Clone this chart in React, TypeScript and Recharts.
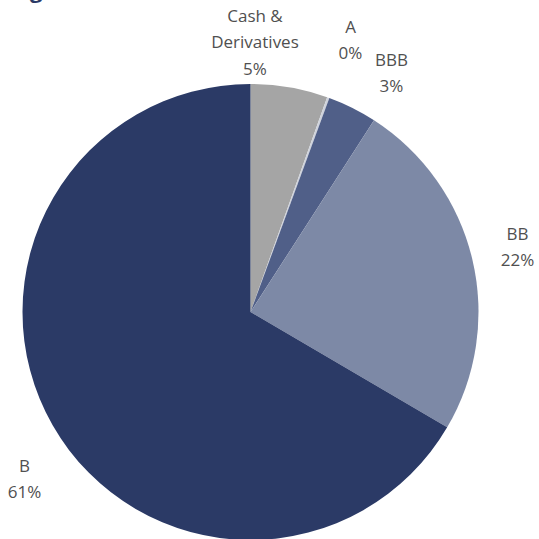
// Credit quality breakdown — pie chart with outside labels
import { PieChart, Pie, Cell } from 'recharts';

const ratings = ['Cash &\nDerivatives', 'A', 'BBB', 'BB', 'B'];
const weights = [5.0, 0.15, 3.2, 22.3, 61.0];
const colors = ['#a5a5a5', '#cfd3dc', '#505f88', '#7d89a6', '#2b3a66'];

// label block centres, relative to the pie centre
const labelOffsets = [
  { dx: 4.5, dy: -271 },
  { dx: 100, dy: -273 },
  { dx: 141, dy: -240 },
  { dx: 267, dy: -66 },
  { dx: -226, dy: 166 },
];

const data = ratings.map((name, i) => ({ name, value: weights[i] }));

const CX = 250.5;
const CY = 312;

// eslint-disable-next-line @typescript-eslint/no-explicit-any
const renderLabel = (props: any) => {
  const { index, cx, cy, value } = props;
  const off = labelOffsets[index];
  const lines = [...ratings[index].split('\n'), `${Math.round(value)}%`];
  const lh = 26.5;
  const x = cx + off.dx;
  const y0 = cy + off.dy - ((lines.length - 1) * lh) / 2;
  return (
    <text
      key={index}
      x={x}
      y={y0}
      textAnchor="middle"
      dominantBaseline="central"
      fill="#505050"
      fontSize={17}
      fontFamily="'Open Sans', sans-serif"
    >
      {lines.map((l, i) => (
        <tspan key={i} x={x} y={y0 + i * lh}>{l}</tspan>
      ))}
    </text>
  );
};

export default function App() {
  return (
    <div style={{ position: 'absolute', left: 0, top: 0, width: 539, height: 539, overflow: 'hidden', background: '#fff' }}>
      <PieChart width={539} height={539} margin={{ top: 0, right: 0, bottom: 0, left: 0 }}>
        <text x={30} y={-2} fill="#2b3a66" fontSize={22} fontWeight="bold" fontFamily="'Open Sans', sans-serif">g</text>
        <Pie
          data={data}
          dataKey="value"
          nameKey="name"
          cx={CX}
          cy={CY}
          outerRadius={228}
          startAngle={90}
          endAngle={-270}
          stroke="none"
          label={renderLabel}
          labelLine={false}
          isAnimationActive={false}
        >
          {data.map((d, i) => (
            <Cell key={d.name} fill={colors[i]} />
          ))}
        </Pie>
      </PieChart>
    </div>
  );
}
